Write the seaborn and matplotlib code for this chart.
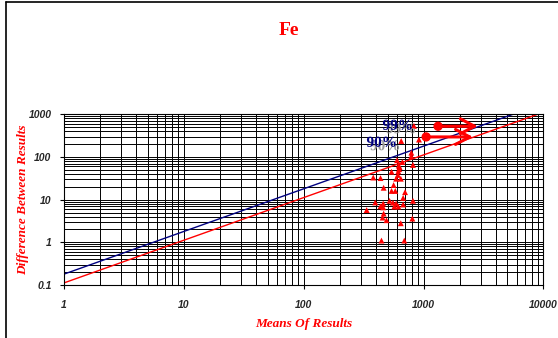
import numpy as np
import pandas as pd
import matplotlib
matplotlib.use('Agg')
import matplotlib.pyplot as plt
import matplotlib.patheffects as pe
from matplotlib.ticker import LogLocator, FuncFormatter, NullFormatter
import seaborn as sns

# --- data ---
mean_x = [830, 650, 915, 790, 790, 600, 665, 620, 625, 615, 815, 540, 380, 437, 590,
          645, 464, 562, 540, 580, 700, 675, 815, 395, 460, 437, 460, 520, 555, 590,
          675, 570, 615, 335, 464, 455, 490, 805, 645, 445, 690, 610, 630]
diff_y = [535, 237, 256, 126, 105, 84, 76, 63, 52, 46, 65, 45, 33, 32, 31,
          31, 19, 22, 16, 16, 15, 11, 9.4, 8.6, 8.1, 7.0, 6.6, 9.4, 8.5, 8.1,
          7.7, 6.9, 6.9, 5.7, 4.7, 3.8, 3.3, 3.6, 2.8, 1.1, 1.1, 38, 58]

line_x = [1, 10000]
limit99_y = [0.18, 1800]
limit90_y = [0.112, 1120]

outlier_x = [1320, 1050]
outlier_y = [525, 295]
arrow_end_x = [2830, 2580]

x_ticks = [1, 10, 100, 1000, 10000]
y_ticks = [0.1, 1, 10, 100, 1000]

sns.set_theme(style="white")
plt.rcParams['font.family'] = ['Liberation Sans', 'DejaVu Sans']

fig = plt.figure(figsize=(5.58, 3.38), dpi=100)
ax = fig.add_axes([0.1147, 0.1568, 0.974 - 0.1147, 0.6618 - 0.1568])

ax.set_xscale('log')
ax.set_yscale('log')
ax.set_xlim(1, 10000)
ax.set_ylim(0.1, 1000)

# grid, major + minor
ax.xaxis.set_minor_locator(LogLocator(base=10, subs=np.arange(2, 10), numticks=20))
ax.yaxis.set_minor_locator(LogLocator(base=10, subs=np.arange(2, 10), numticks=20))
ax.xaxis.set_minor_formatter(NullFormatter())
ax.yaxis.set_minor_formatter(NullFormatter())
ax.grid(True, which='both', color='black', linewidth=0.7)
ax.set_axisbelow(True)

lines = pd.DataFrame({'x': line_x * 2,
                      'y': limit99_y + limit90_y,
                      'lim': ['99'] * 2 + ['90'] * 2})
sns.lineplot(data=lines, x='x', y='y', hue='lim', palette={'99': '#000080', '90': '#ff0000'},
             linewidth=1.0, legend=False, ax=ax)

pts = pd.DataFrame({'mean': mean_x, 'diff': diff_y})
sns.scatterplot(data=pts, x='mean', y='diff', marker='^', color='#ff0000', s=18,
                edgecolor='none', ax=ax, zorder=5)

out = pd.DataFrame({'x': outlier_x, 'y': outlier_y})
sns.scatterplot(data=out, x='x', y='y', marker='o', color='#ff0000', s=45,
                edgecolor='none', ax=ax, zorder=6)
for x0, y0, x1 in zip(outlier_x, outlier_y, arrow_end_x):
    ax.annotate('', xy=(x1, y0), xytext=(x0, y0),
                arrowprops=dict(arrowstyle='->,head_length=0.85,head_width=0.45',
                                color='#ff0000', lw=2.2, shrinkA=0, shrinkB=0), zorder=6)

shadow = [pe.SimplePatchShadow(offset=(2.5, -2.5), shadow_rgbFace='0.6', alpha=1.0), pe.Normal()]
ax.text(607, 525, '99%', color='#000080', fontsize=11, fontweight='bold',
        family=['Liberation Serif'], ha='center', va='center', path_effects=shadow, zorder=7)
ax.text(447, 210, '90%', color='#000080', fontsize=11, fontweight='bold',
        family=['Liberation Serif'], ha='center', va='center', path_effects=shadow, zorder=7)

ax.set_xticks(x_ticks)
ax.set_yticks(y_ticks)
fmt = FuncFormatter(lambda v, p: '%g' % v)
ax.xaxis.set_major_formatter(fmt)
ax.yaxis.set_major_formatter(fmt)
ax.tick_params(axis='both', which='major', direction='out', length=3, width=0.8,
               color='black', bottom=True, left=True, labelsize=7.5)
ax.tick_params(axis='x', which='major', pad=8)
ax.tick_params(axis='y', which='major', pad=6)
ax.tick_params(which='minor', length=0)
for lab in ax.get_xticklabels() + ax.get_yticklabels():
    lab.set_fontweight('bold')
    lab.set_fontstyle('italic')
for sp in ax.spines.values():
    sp.set_color('black')
    sp.set_linewidth(0.8)

ax.set_xlabel('Means Of Results', color='#ff0000', fontsize=9.5, fontweight='bold',
              fontstyle='italic', family=['Liberation Serif'])
ax.set_ylabel('Difference Between Results', color='#ff0000', fontsize=9.5, fontweight='bold',
              fontstyle='italic', family=['Liberation Serif'])
ax.xaxis.set_label_coords(0.5, -0.195)
ax.yaxis.set_label_coords(-0.072, 0.5)

fig.text(0.518, 0.911, 'Fe', color='#ff0000', fontsize=14, fontweight='bold',
         family=['Liberation Serif'], ha='center', va='center')

# chart area frame (left and top edges visible)
fig.add_artist(plt.Line2D([6 / 558, 6 / 558], [0, 1 - 2 / 338], color='black', lw=1.2,
                          transform=fig.transFigure))
fig.add_artist(plt.Line2D([6 / 558, 1], [1 - 2 / 338, 1 - 2 / 338], color='black', lw=1.2,
                          transform=fig.transFigure))

plt.savefig('out.png', dpi=100)
plt.close()
